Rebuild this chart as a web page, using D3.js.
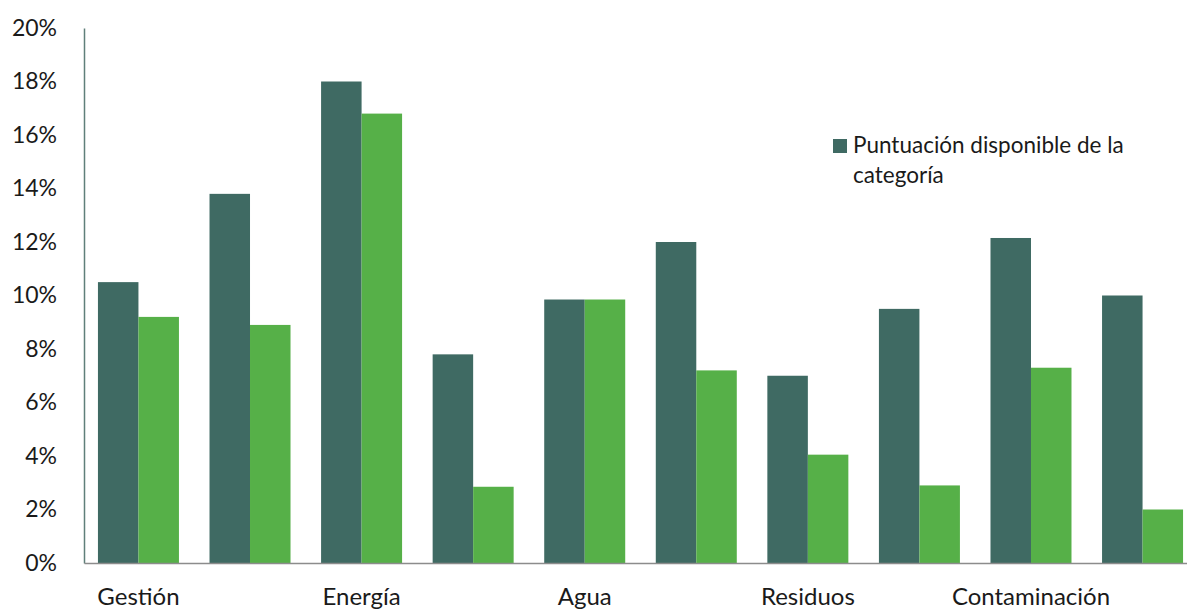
<!DOCTYPE html>
<html>
<head>
<meta charset="utf-8">
<script src="https://cdn.jsdelivr.net/npm/d3@7"></script>
<style>
  html, body { margin: 0; padding: 0; background: #ffffff; }
  svg { display: block; }
  text { font-family: Lato, "Open Sans", sans-serif; fill: #1a1a1a; }
</style>
</head>
<body>
<svg id="chart" width="1187" height="610"></svg>
<script>
// ---- data ----
const categories = ["Gestión", "Gestión 2", "Energía", "Energía 2", "Agua", "Agua 2", "Residuos", "Residuos 2", "Contaminación", "Contaminación 2"];
const categoryLabels = ["Gestión", "", "Energía", "", "Agua", "", "Residuos", "", "Contaminación", ""];
const available = [10.5, 13.8, 18.0, 7.8, 9.85, 12.0, 7.0, 9.5, 12.15, 10.0];
const obtained  = [9.2, 8.9, 16.8, 2.85, 9.85, 7.2, 4.05, 2.9, 7.3, 2.0];
const yTicks = [0, 2, 4, 6, 8, 10, 12, 14, 16, 18, 20];
const legendLabel = ["Puntuación disponible de la", "categoría"];

// ---- layout ----
const svg = d3.select("#chart");
const x0 = 84, yBase = 563, yTop = 28;
const x = d3.scaleBand().domain(categories).range([x0, 1197]).paddingInner(0.274).paddingOuter(0.125);
const xs = d3.scaleBand().domain(["a", "o"]).range([0, x.bandwidth()]);
const y = d3.scaleLinear().domain([0, 20]).range([yBase, yTop]);

const darkCol = "#3f6a63", greenCol = "#56b048";

// bars
const g = svg.append("g");
g.selectAll("rect.a").data(available).join("rect")
  .attr("x", (d, i) => x(categories[i]) + xs("a"))
  .attr("y", d => y(d))
  .attr("width", xs.bandwidth())
  .attr("height", d => y(0) - y(d))
  .attr("fill", darkCol);
g.selectAll("rect.o").data(obtained).join("rect")
  .attr("x", (d, i) => x(categories[i]) + xs("o"))
  .attr("y", d => y(d))
  .attr("width", xs.bandwidth())
  .attr("height", d => y(0) - y(d))
  .attr("fill", greenCol);

// y axis
const yAxis = d3.axisLeft(y).tickValues(yTicks).tickFormat(d => d + "%").tickSize(0).tickPadding(27);
const ya = svg.append("g").attr("transform", `translate(${x0},0)`).call(yAxis);
ya.select(".domain").attr("stroke", "#5f7f7a").attr("stroke-width", 1.5);
ya.selectAll("text").style("font-size", "23px").style("font-family", "Lato, 'Open Sans', sans-serif").attr("fill", "#1a1a1a");

// x baseline
const xAxis = d3.axisBottom(x).tickSize(0).tickFormat((d, i) => categoryLabels[i]).tickPadding(25);
const xa = svg.append("g").attr("transform", `translate(0,${yBase})`).call(xAxis);
xa.select(".domain").attr("stroke", "#8c8c8c").attr("stroke-width", 1.5);
xa.selectAll("text").style("font-size", "24px").style("font-family", "Lato, 'Open Sans', sans-serif").attr("fill", "#1a1a1a");

// legend
const lg = svg.append("g").attr("transform", "translate(833,139)");
lg.append("rect").attr("width", 14).attr("height", 14).attr("fill", darkCol);
lg.selectAll("text").data(legendLabel).join("text")
  .attr("x", 20).attr("y", (d, i) => 14 + i * 30)
  .style("font-size", "22.5px")
  .text(d => d);
</script>
</body>
</html>
